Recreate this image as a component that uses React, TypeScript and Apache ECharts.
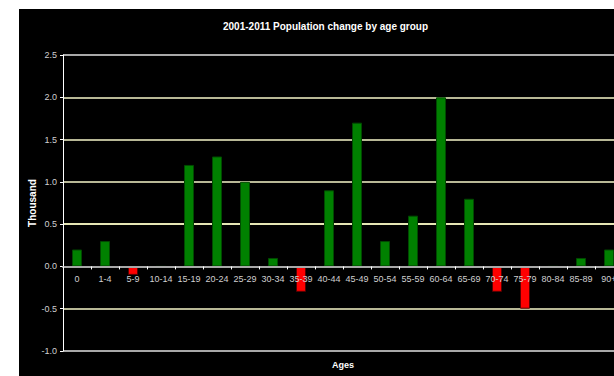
import React, { useEffect, useRef } from "react";
import * as echarts from "echarts";

// Age bands and the population change (thousands) for each band
const ageGroups: string[] = [
  "0", "1-4", "5-9", "10-14", "15-19", "20-24", "25-29", "30-34", "35-39", "40-44",
  "45-49", "50-54", "55-59", "60-64", "65-69", "70-74", "75-79", "80-84", "85-89", "90+",
];
const changeThousands: number[] = [
  0.2, 0.3, -0.1, 0, 1.2, 1.3, 1.0, 0.1, -0.3, 0.9,
  1.7, 0.3, 0.6, 2.0, 0.8, -0.3, -0.5, 0, 0.1, 0.2,
];
const yTicks: number[] = [-1.0, -0.5, 0.0, 0.5, 1.0, 1.5, 2.0, 2.5];
const Y_MIN = -1;
const Y_MAX = 2.5;

const FONT = "'Liberation Sans', Arial, sans-serif";
const GRID_TOP = 55;
const GRID_HEIGHT = 296;

export default function App() {
  const ref = useRef<HTMLDivElement>(null);

  useEffect(() => {
    document.body.style.margin = "0";
    if (!ref.current) return;
    const chart = echarts.init(ref.current, null, { renderer: "svg" });

    // gridline colours, one per tick from the bottom up
    const gridColors = yTicks.map((v) =>
      v === 0 ? "rgba(0,0,0,0)" : v === 2.5 || v === -1.0 ? "#a8a8a8" : v === 0.5 ? "#e6e6b4" : "#b8b896"
    );

    // lift the category axis from the grid bottom up to the zero line
    const zeroOffset = -((0 - Y_MIN) / (Y_MAX - Y_MIN)) * GRID_HEIGHT;

    chart.setOption({
      animation: false,
      backgroundColor: "transparent",
      title: {
        text: "2001-2011 Population change by age group",
        left: 218,
        top: 16,
        textStyle: { color: "#ffffff", fontSize: 10, fontWeight: "bold", fontFamily: FONT },
      },
      grid: {
        left: 63,
        top: GRID_TOP,
        width: 560,
        height: GRID_HEIGHT,
        containLabel: false,
        outerBoundsMode: "none",
      },
      xAxis: {
        type: "category",
        data: ageGroups,
        boundaryGap: true,
        position: "bottom",
        offset: zeroOffset,
        name: "Ages",
        nameLocation: "middle",
        nameGap: 94,
        nameMoveOverlap: false,
        nameTextStyle: {
          color: "#ffffff",
          fontSize: 9,
          fontWeight: "bold",
          fontFamily: FONT,
        },
        axisLine: { onZero: false, lineStyle: { color: "#a8a8a8", width: 2 } },
        axisTick: { show: true, length: 3, lineStyle: { color: "#ffffff", width: 1 } },
        axisLabel: {
          color: "#d0d0d0",
          fontSize: 9,
          fontFamily: FONT,
          margin: 8,
          interval: 0,
        },
        splitLine: { show: false },
        z: 5,
      },
      yAxis: {
        type: "value",
        min: Y_MIN,
        max: Y_MAX,
        interval: 0.5,
        name: "Thousand",
        nameLocation: "middle",
        nameGap: 26,
        nameMoveOverlap: false,
        nameRotate: 90,
        nameTextStyle: { color: "#ffffff", fontSize: 10, fontWeight: "bold", fontFamily: FONT },
        axisLine: { show: true, lineStyle: { color: "#ffffff", width: 1 } },
        axisTick: { show: true, length: 3, lineStyle: { color: "#ffffff" } },
        axisLabel: {
          color: "#d0d0d0",
          fontSize: 9,
          fontFamily: FONT,
          margin: 6,
          formatter: (v: number) => v.toFixed(1),
        },
        splitLine: { show: true, lineStyle: { color: gridColors, width: 2 } },
      },
      series: [
        {
          type: "bar",
          barWidth: 10,
          data: changeThousands.map((v) => ({
            value: v,
            itemStyle: {
              color: v < 0 ? "#ff0000" : "#008000",
              borderColor: v < 0 ? "#5a0000" : "#004a00",
              borderWidth: 1,
            },
          })),
          z: 3,
        },
      ],
    });

    return () => chart.dispose();
  }, []);

  return (
    <div style={{ position: "relative", width: 614, height: 376, background: "#ffffff", overflow: "hidden" }}>
      <div style={{ position: "absolute", left: 19, top: 9, right: 0, bottom: 0, background: "#000000" }} />
      <div ref={ref} style={{ position: "absolute", left: 0, top: 0, width: 614, height: 376 }} />
    </div>
  );
}
